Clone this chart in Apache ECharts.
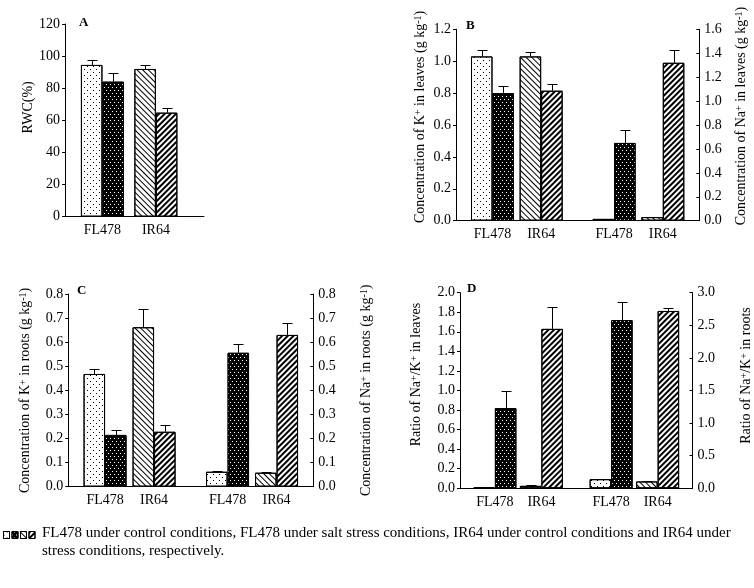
<!DOCTYPE html>
<html><head><meta charset="utf-8">
<script src="https://cdn.jsdelivr.net/npm/echarts@6/dist/echarts.min.js"></script>
<style>html,body{margin:0;padding:0;background:#fff}#c{width:754px;height:588px}</style>
</head><body><div id="c"></div>
<script>
// ---------------- data ----------------
const cultivars = ['FL478', 'IR64'];
const conditions = ['FL478 under control conditions', 'FL478 under salt stress conditions',
                    'IR64 under control conditions', 'IR64 under stress conditions'];
// values in the order of `conditions`
const rwc = [94.5, 84.1, 92.0, 64.8];
const rwcErr = [3.1, 5.2, 2.6, 3.1];
const leafK = [1.03, 0.80, 1.03, 0.815];
const leafKErr = [0.04, 0.045, 0.03, 0.04];
const leafNa = [0.015, 0.65, 0.03, 1.32];
const leafNaErr = [0.003, 0.11, 0.005, 0.105];
const rootK = [0.468, 0.215, 0.662, 0.228];
const rootKErr = [0.021, 0.02, 0.074, 0.027];
const rootNa = [0.062, 0.556, 0.058, 0.63];
const rootNaErr = [0.005, 0.036, 0.003, 0.048];
const leafRatio = [0.01, 0.82, 0.025, 1.63];
const leafRatioErr = [0.005, 0.17, 0.006, 0.22];
const rootRatio = [0.14, 2.58, 0.105, 2.72];
const rootRatioErr = [0.006, 0.27, 0.008, 0.04];
const caption = ['FL478 under control conditions, FL478 under salt stress conditions, IR64 under control conditions and IR64 under',
                 'stress conditions, respectively.'];

// ---------------- styling / layout ----------------
const FONT = "'Liberation Serif', 'DejaVu Serif', serif";
const BAR_W = 21.5, CAP = 5;
const decals = [
  {symbol: 'rect', symbolSize: 1, dashArrayX: [[1, 5], [0, 3, 1, 2]], dashArrayY: [1, 2], color: '#000'},
  {symbol: 'rect', symbolSize: 1, dashArrayX: [[1, 3], [0, 2, 1, 1]], dashArrayY: [1, 2], color: '#fff'},
  {symbol: 'rect', symbolSize: 1, dashArrayX: [1, 0], dashArrayY: [1, 2.5], rotation: Math.PI / 4, color: '#000'},
  {symbol: 'rect', symbolSize: 1, dashArrayX: [1, 0], dashArrayY: [1.8, 1.6], rotation: -Math.PI / 4, color: '#000'}
];
const fills = ['#fff', '#000', '#fff', '#fff'];

const supRich = {sup: {fontSize: 10, verticalAlign: 'top', fontFamily: FONT, color: '#000'}};
const panels = [
  {id: 'A', grid: {left: 65, top: 24, width: 139, height: 192.7}, slots: 13,
   yAxes: [{min: 0, max: 120, interval: 20, digits: 0, name: 'RWC(%)', gap: 30, shift: 13}],
   blocks: [{at: [3, 8], y: 0, values: rwc, errs: rwcErr}]},
  {id: 'B', grid: {left: 456, top: 29.3, width: 243.3, height: 191.4}, slots: 10,
   yAxes: [{min: 0, max: 1.2, interval: 0.2, digits: 1, name: 'Concentration of K{sup|+} in leaves (g kg{sup|-1})', gap: 29, shift: 8},
           {min: 0, max: 1.6, interval: 0.2, digits: 1, name: 'Concentration of Na{sup|+} in leaves (g kg{sup|-1})', gap: 35, shift: 9}],
   blocks: [{at: [1, 3], y: 0, values: leafK, errs: leafKErr}, {at: [6, 8], y: 1, values: leafNa, errs: leafNaErr}]},
  {id: 'C', grid: {left: 68.3, top: 294, width: 245, height: 192.7}, slots: 10,
   yAxes: [{min: 0, max: 0.8, interval: 0.1, digits: 1, name: 'Concentration of K{sup|+} in roots (g kg{sup|-1})', gap: 36, shift: 0},
           {min: 0, max: 0.8, interval: 0.1, digits: 1, name: 'Concentration of Na{sup|+} in roots (g kg{sup|-1})', gap: 46, shift: 0}],
   blocks: [{at: [1, 3], y: 0, values: rootK, errs: rootKErr}, {at: [6, 8], y: 1, values: rootNa, errs: rootNaErr}]},
  {id: 'D', grid: {left: 460, top: 292.7, width: 239.3, height: 195.6}, slots: 10,
   yAxes: [{min: 0, max: 2.0, interval: 0.2, digits: 1, name: 'Ratio of Na{sup|+}/K{sup|+} in leaves', gap: 37, shift: 16},
           {min: 0, max: 3.0, interval: 0.5, digits: 1, name: 'Ratio of Na{sup|+}/K{sup|+} in roots', gap: 46.5, shift: 15}],
   blocks: [{at: [1, 3], y: 0, values: leafRatio, errs: leafRatioErr}, {at: [6, 8], y: 1, values: rootRatio, errs: rootRatioErr}]}
];
const letterPos = {A: [79, 16], B: [466, 19], C: [77, 284], D: [467, 282]};

const grids = [], xAxes = [], yAxes = [], series = [], titles = [];
let yIdx = 0;
panels.forEach((p, g) => {
  grids.push(Object.assign({containLabel: false}, p.grid));
  const cats = new Array(p.slots).fill('');
  p.blocks.forEach(b => b.at.forEach((s, i) => { cats[s] = cultivars[i]; }));
  xAxes.push({type: 'category', gridIndex: g, data: cats, boundaryGap: true,
    axisLine: {show: true, lineStyle: {color: '#000', width: 1}}, axisTick: {show: false},
    axisLabel: {interval: 0, color: '#000', fontFamily: FONT, fontSize: 14, margin: 7}, splitLine: {show: false}});
  const yBase = yIdx;
  p.yAxes.forEach((a, k) => {
    const pad = a.shift > 0 ? [0, 0, 0, 2 * a.shift] : [0, 0, 0, 0];
    yAxes.push({type: 'value', gridIndex: g, position: k === 0 ? 'left' : 'right',
      min: a.min, max: a.max, interval: a.interval,
      axisLine: {show: true, lineStyle: {color: '#000', width: 1}},
      axisTick: {show: true, inside: k === 1, length: 3, lineStyle: {color: '#000', width: 1}},
      axisLabel: {color: '#000', fontFamily: FONT, fontSize: 14, margin: 5, formatter: v => v.toFixed(a.digits)},
      splitLine: {show: false},
      name: a.name, nameLocation: 'middle', nameGap: a.gap,
      nameTextStyle: {color: '#000', fontFamily: FONT, fontSize: 14, padding: pad, rich: supRich}});
    yIdx++;
  });
  const errItems = [];
  p.blocks.forEach((b, bi) => {
    conditions.forEach((name, c) => {
      const cv = Math.floor(c / 2), treat = c % 2;
      const data = new Array(p.slots).fill('-');
      data[b.at[cv]] = b.values[c];
      series.push({type: 'bar', name, xAxisIndex: g, yAxisIndex: yBase + b.y,
        stack: p.id + (treat ? '-salt' : '-ctrl'), barWidth: BAR_W, barGap: '0%',
        itemStyle: {color: fills[c], borderColor: '#000', borderWidth: 1, decal: decals[c]},
        emphasis: {disabled: true}, data});
      errItems.push({blockY: yBase + b.y, v: [b.at[cv], b.values[c], b.errs[c], treat ? 1 : -1]});
    });
  });
  [0, 1].forEach(k => {
    const items = errItems.filter(e => e.blockY === yBase + k).map(e => e.v);
    if (!items.length) return;
    series.push({type: 'custom', xAxisIndex: g, yAxisIndex: yBase + k, silent: true, z: 5,
      encode: {x: 0, y: 1}, data: items,
      renderItem(params, api) {
        const cat = api.value(0), v = api.value(1), e = api.value(2), slot = api.value(3);
        const base = api.coord([cat, v]), top = api.coord([cat, v + e]);
        const x = Math.round(base[0] + slot * BAR_W / 2) + 0.5;
        const yt = Math.round(top[1]) + 0.5;
        return {type: 'group', children: [
          {type: 'line', shape: {x1: x, y1: base[1], x2: x, y2: yt}, style: {stroke: '#000', lineWidth: 1}},
          {type: 'line', shape: {x1: x - CAP, y1: yt, x2: x + CAP, y2: yt}, style: {stroke: '#000', lineWidth: 1}}
        ]};
      }});
  });
  titles.push({text: p.id, left: letterPos[p.id][0], top: letterPos[p.id][1], padding: 0,
    textStyle: {fontFamily: FONT, fontSize: 13, fontWeight: 'bold', color: '#000'}});
});
titles.push({text: caption.join('\n'), left: 42, top: 524, padding: 0,
  textStyle: {fontFamily: FONT, fontSize: 15, fontWeight: 'normal', color: '#000', lineHeight: 18}});

const chart = echarts.init(document.getElementById('c'), null, {renderer: 'canvas'});
chart.setOption({
  animation: false,
  backgroundColor: '#fff',
  textStyle: {fontFamily: FONT},
  title: titles,
  legend: {left: 3, top: 531, padding: 0, itemWidth: 6, itemHeight: 7, itemGap: 1.5, icon: 'rect',
    data: conditions, formatter: () => '', selectedMode: false,
    itemStyle: {borderColor: '#000', borderWidth: 1}, textStyle: {fontSize: 1}},
  grid: grids, xAxis: xAxes, yAxis: yAxes, series
});
</script></body></html>
